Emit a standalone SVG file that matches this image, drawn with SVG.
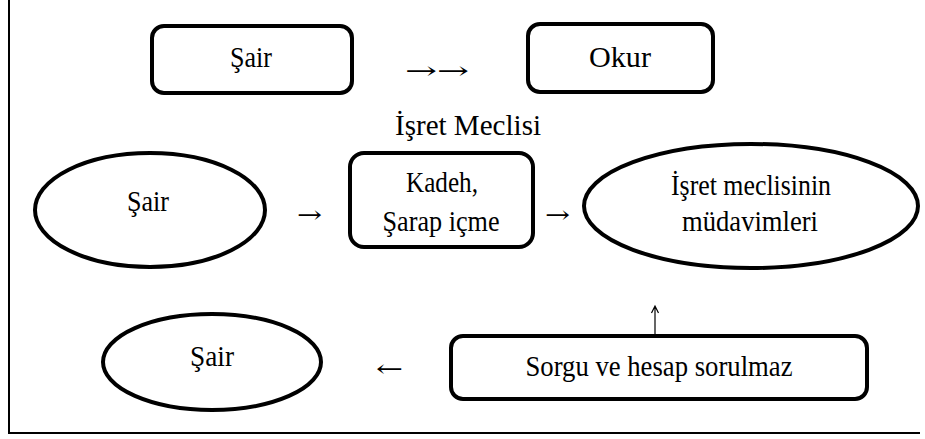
<svg xmlns="http://www.w3.org/2000/svg" width="925" height="439" viewBox="0 0 925 439">
  <style>
    .shape { fill: #ffffff; stroke: #000000; stroke-width: 4; }
    .label { font-family: 'Liberation Serif', 'Times New Roman', serif; font-size: 29px; fill: #000000; text-anchor: middle; }
    .arrow { font-family: 'DejaVu Serif', serif; font-size: 24px; fill: #000000; }
    .frame { fill: none; stroke: #000000; stroke-width: 2; }
  </style>

  <rect width="925" height="439" fill="#ffffff"/>

  <!-- page frame: left and bottom edges -->
  <path class="frame" d="M9 0 V433 H920"/>

  <g id="sair-top">
    <rect class="shape" x="152" y="26" width="200" height="67" rx="12"/>
    <text class="label" x="251" y="67" textLength="42" lengthAdjust="spacingAndGlyphs">Şair</text>
  </g>

  <g id="okur">
    <rect class="shape" x="528" y="24" width="185" height="68" rx="12"/>
    <text class="label" x="620" y="67" textLength="62" lengthAdjust="spacingAndGlyphs">Okur</text>
  </g>

  <g id="isret-label">
    <text class="label" x="468" y="135" textLength="146" lengthAdjust="spacingAndGlyphs">İşret Meclisi</text>
  </g>

  <g id="sair-middle">
    <ellipse class="shape" cx="150" cy="210" rx="115" ry="57"/>
    <text class="label" x="148" y="211" textLength="42" lengthAdjust="spacingAndGlyphs">Şair</text>
  </g>

  <g id="kadeh">
    <rect class="shape" x="350" y="153" width="183" height="94" rx="14"/>
    <text class="label" x="442" y="192" textLength="72" lengthAdjust="spacingAndGlyphs">Kadeh,</text>
    <text class="label" x="441" y="231" textLength="117" lengthAdjust="spacingAndGlyphs">Şarap içme</text>
  </g>

  <g id="mudavimler">
    <ellipse class="shape" cx="751" cy="206" rx="167" ry="62"/>
    <text class="label" x="751" y="195" textLength="160" lengthAdjust="spacingAndGlyphs">İşret meclisinin</text>
    <text class="label" x="750" y="231" textLength="136" lengthAdjust="spacingAndGlyphs">müdavimleri</text>
  </g>

  <g id="sorgu">
    <rect class="shape" x="451" y="336" width="416" height="63" rx="12"/>
    <text class="label" x="659" y="376" textLength="267" lengthAdjust="spacingAndGlyphs">Sorgu ve hesap sorulmaz</text>
  </g>

  <g id="sair-bottom">
    <ellipse class="shape" cx="212" cy="362" rx="109" ry="48"/>
    <text class="label" x="212" y="366" textLength="44" lengthAdjust="spacingAndGlyphs">Şair</text>
  </g>

  <g id="connectors">
    <text class="arrow" x="405" y="79" textLength="64" lengthAdjust="spacingAndGlyphs">→→</text>
    <text class="arrow" x="297" y="223" textLength="25" lengthAdjust="spacingAndGlyphs">→</text>
    <text class="arrow" x="545" y="223" textLength="25" lengthAdjust="spacingAndGlyphs">→</text>
    <text class="arrow" x="376" y="377" textLength="27" lengthAdjust="spacingAndGlyphs">←</text>
    <!-- upward arrow from the Sorgu box -->
    <path d="M655 335 V307 M651.5 313 L655 306 L658.5 313" fill="none" stroke="#000000" stroke-width="1.2"/>
  </g>
</svg>
